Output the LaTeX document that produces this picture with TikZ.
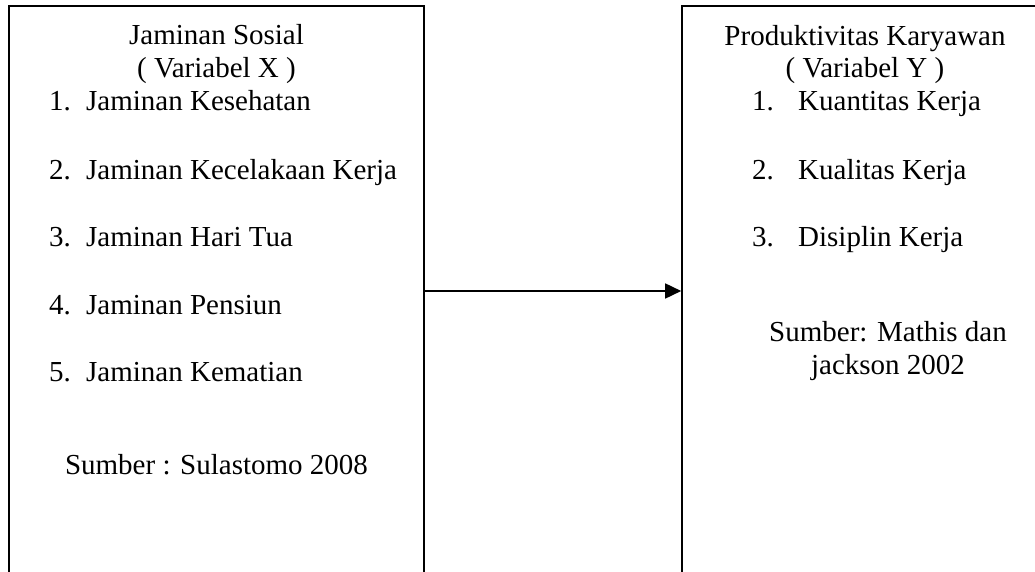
\documentclass[tikz,border=0pt]{standalone}
\usepackage{fontspec}
\setmainfont{Liberation Serif}
\usetikzlibrary{arrows.meta}

\tikzset{
    txt/.style={inner sep=0pt, anchor=base, font=\fontsize{29}{29}\selectfont},
    item/.style={txt, anchor=base west},
    varbox/.style={draw, line width=1.6pt, inner sep=0pt, minimum height=570pt},
}

\begin{document}
\begin{tikzpicture}[x=1pt, y=-1pt]
        \useasboundingbox (0,0) rectangle (1035,572);
        \clip (0,0) rectangle (1035,572);

        \node[varbox, minimum width=415pt] (boxX) at (216.5,291) {};
        \node[varbox, minimum width=380pt] (boxY) at (872,291) {};

        \node[txt] (titleX) at (216.5,45) {Jaminan Sosial};
        \node[txt] (varX) at (216.5,77.5) {( Variabel X )};
        \node[item] (itemX1) at (49,111) {\makebox[37pt][l]{1.}Jaminan Kesehatan};
        \node[item] (itemX2) at (49,179) {\makebox[37pt][l]{2.}Jaminan Kecelakaan Kerja};
        \node[item] (itemX3) at (49,246) {\makebox[37pt][l]{3.}Jaminan Hari Tua};
        \node[item] (itemX4) at (49,314) {\makebox[37pt][l]{4.}Jaminan Pensiun};
        \node[item] (itemX5) at (49,381) {\makebox[37pt][l]{5.}Jaminan Kematian};
        \node[txt] (srcX) at (216.5,474) {Sumber : Sulastomo 2008};

        \node[txt] (titleY) at (865,45.5) {Produktivitas Karyawan};
        \node[txt] (varY) at (865,78) {( Variabel Y )};
        \node[item] (itemY1) at (752,111) {\makebox[46pt][l]{1.}Kuantitas Kerja};
        \node[item] (itemY2) at (752,179) {\makebox[46pt][l]{2.}Kualitas Kerja};
        \node[item] (itemY3) at (752,246) {\makebox[46pt][l]{3.}Disiplin Kerja};
        \node[txt] (srcY) at (888,341) {Sumber: Mathis dan};
        \node[txt] (srcY2) at (888,374) {jackson 2002};

        \draw[line width=1.6pt, -{Triangle[length=16pt, width=15pt]}] (boxX.east) -- (boxY.west);
    \end{tikzpicture}
\end{document}
